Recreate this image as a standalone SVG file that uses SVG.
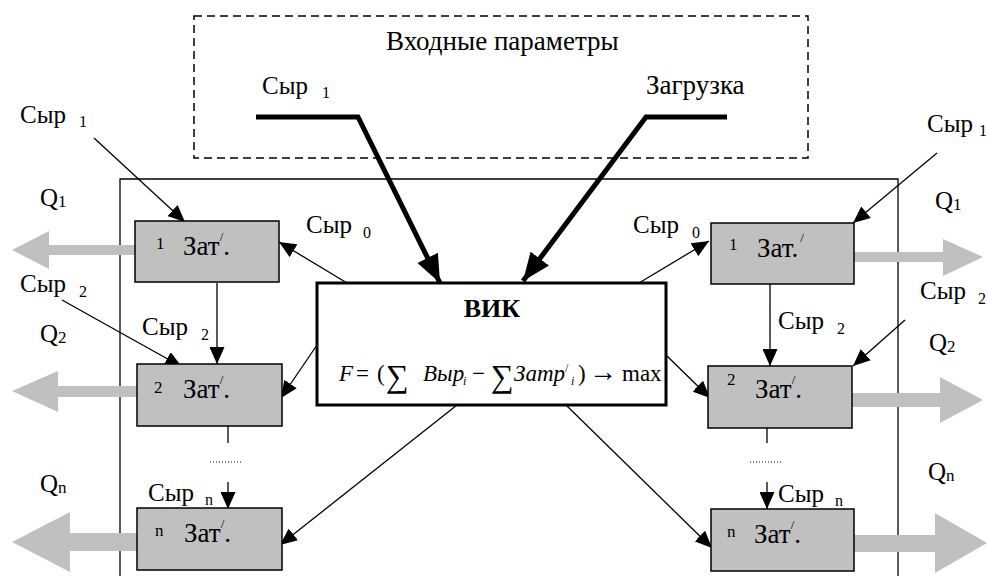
<svg xmlns="http://www.w3.org/2000/svg" width="987" height="576" viewBox="0 0 987 576" font-family="Liberation Serif, serif" font-size="25">
<style>
.sub{font-size:16px}
.sup{font-size:17px}
.pr{font-size:13px}
.box{fill:#c0c0c0;stroke:#000;stroke-width:1.5}
.thin{stroke:#000;stroke-width:1.3;fill:none}
.heavy{stroke:#000;stroke-width:5;fill:none}
.garrow{fill:#c0c0c0;stroke:none}
.it{font-style:italic}
</style>
<defs>
<marker id="ah" markerUnits="userSpaceOnUse" markerWidth="17" markerHeight="15" refX="17" refY="7.5" orient="auto"><path d="M0,0 L17,7.5 L0,15 z" fill="#000"/></marker>
<marker id="ahH" markerUnits="userSpaceOnUse" markerWidth="28" markerHeight="23" refX="28" refY="11.5" orient="auto"><path d="M0,0 L28,11.5 L0,23 z" fill="#000"/></marker>
</defs>
<rect width="987" height="576" fill="#fff"/>
<g id="input-params">
<rect x="194" y="16" width="614" height="142" fill="none" stroke="#000" stroke-width="1.5" stroke-dasharray="8,5"/>
<text x="386" y="50" font-size="27">Входные параметры</text>
<text x="262" y="94">Сыр</text><text class="sub" x="322" y="98">1</text>
<text x="646" y="94" font-size="27">Загрузка</text>
</g>
<g id="outer">
<path d="M120,580 V179 H898 V580" fill="none" stroke="#000" stroke-width="1.3"/>
</g>
<g id="gray-arrows">
<polygon class="garrow" points="135,245 49,245 49,231 12,250 49,269 49,255 135,255"/>
<polygon class="garrow" points="137,386 58,386 58,371 12,391 58,412 58,397 137,397"/>
<polygon class="garrow" points="137,533 70,533 70,512 12,542 70,572 70,551 137,551"/>
<polygon class="garrow" points="854,252 943,252 943,239 983,257 943,276 943,262 854,262"/>
<polygon class="garrow" points="852,393 940,393 940,377 983,400 940,423 940,407 852,407"/>
<polygon class="garrow" points="854,535 935,535 935,513 987,543 935,573 935,552 854,552"/>
</g>
<g id="connectors">
<path class="heavy" d="M256,117 H358 L440,283" marker-end="url(#ahH)"/>
<path class="heavy" d="M727,117 H646 L523,281" marker-end="url(#ahH)"/>
<line class="thin" x1="94" y1="138" x2="185" y2="222" marker-end="url(#ah)"/>
<line class="thin" x1="62" y1="300" x2="182" y2="367" marker-end="url(#ah)"/>
<line class="thin" x1="347" y1="283" x2="279" y2="242" marker-end="url(#ah)"/>
<line class="thin" x1="317" y1="345" x2="281" y2="398" marker-end="url(#ah)"/>
<line class="thin" x1="457" y1="405" x2="280" y2="545" marker-end="url(#ah)"/>
<line class="thin" x1="217" y1="283" x2="217" y2="364" marker-end="url(#ah)"/>
<line class="thin" x1="228" y1="426" x2="228" y2="443"/>
<line x1="210" y1="462" x2="242" y2="462" stroke="#000" stroke-width="1" stroke-dasharray="1,2"/>
<line class="thin" x1="228" y1="482" x2="228" y2="509" marker-end="url(#ah)"/>
<line class="thin" x1="937" y1="153" x2="853" y2="223" marker-end="url(#ah)"/>
<line class="thin" x1="905" y1="320" x2="853" y2="366" marker-end="url(#ah)"/>
<line class="thin" x1="639" y1="283" x2="709" y2="241" marker-end="url(#ah)"/>
<line class="thin" x1="666" y1="355" x2="710" y2="398" marker-end="url(#ah)"/>
<line class="thin" x1="566" y1="405" x2="712" y2="548" marker-end="url(#ah)"/>
<line class="thin" x1="770" y1="284" x2="770" y2="366" marker-end="url(#ah)"/>
<line class="thin" x1="767" y1="428" x2="767" y2="443"/>
<line x1="750" y1="462" x2="782" y2="462" stroke="#000" stroke-width="1" stroke-dasharray="1,2"/>
<line class="thin" x1="767" y1="482" x2="767" y2="509" marker-end="url(#ah)"/>
</g>
<g id="labels">
<text x="20" y="123">Сыр</text><text class="sub" x="79" y="127">1</text>
<text x="40" y="206">Q</text><text class="sup" x="58" y="207">1</text>
<text x="306" y="233">Сыр</text><text class="sub" x="363" y="238">0</text>
<text x="20" y="292">Сыр</text><text class="sub" x="79" y="297">2</text>
<text x="40" y="342">Q</text><text class="sup" x="58" y="343">2</text>
<text x="142" y="335">Сыр</text><text class="sub" x="201" y="340">2</text>
<text x="40" y="492">Q</text><text class="sup" x="58" y="493">n</text>
<text x="148" y="501">Сыр</text><text class="sub" x="205" y="505">n</text>
<text x="633" y="233">Сыр</text><text class="sub" x="692" y="238">0</text>
<text x="927" y="132">Сыр</text><text class="sub" x="979" y="136">1</text>
<text x="935" y="209">Q</text><text class="sup" x="953" y="210">1</text>
<text x="920" y="299">Сыр</text><text class="sub" x="978" y="304">2</text>
<text x="778" y="329">Сыр</text><text class="sub" x="837" y="334">2</text>
<text x="929" y="351">Q</text><text class="sup" x="947" y="352">2</text>
<text x="928" y="480">Q</text><text class="sup" x="946" y="481">n</text>
<text x="778" y="502">Сыр</text><text class="sub" x="835" y="506">n</text>
</g>
<g id="node-L1">
<rect class="box" x="135" y="221" width="144" height="61"/>
<text class="sup" x="156" y="249">1</text>
<text x="183" y="255" font-size="27">Зат<tspan class="pr" dy="-14">/</tspan><tspan dy="14">.</tspan></text>
</g>
<g id="node-L2">
<rect class="box" x="137" y="364" width="145" height="62"/>
<text class="sup" x="154" y="393">2</text>
<text x="183" y="398" font-size="27">Зат<tspan class="pr" dy="-14">/</tspan><tspan dy="14">.</tspan></text>
</g>
<g id="node-Ln">
<rect class="box" x="137" y="508" width="145" height="62"/>
<text class="sup" x="155" y="536">n</text>
<text x="184" y="542" font-size="27">Зат<tspan class="pr" dy="-14">/</tspan><tspan dy="14">.</tspan></text>
</g>
<g id="node-R1">
<rect class="box" x="711" y="223" width="143" height="61"/>
<text class="sup" x="729" y="250">1</text>
<text x="757" y="257" font-size="27">Зат.<tspan class="pr" dx="2" dy="-15">/</tspan></text>
</g>
<g id="node-R2">
<rect class="box" x="708" y="366" width="144" height="62"/>
<text class="sup" x="727" y="385">2</text>
<text x="755" y="398" font-size="27">Зат<tspan class="pr" dy="-14">/</tspan><tspan dy="14">.</tspan></text>
</g>
<g id="node-Rn">
<rect class="box" x="711" y="509" width="143" height="62"/>
<text class="sup" x="727" y="537">n</text>
<text x="754" y="543" font-size="27">Зат<tspan class="pr" dy="-14">/</tspan><tspan dy="14">.</tspan></text>
</g>
<g id="node-VIK">
<rect x="317" y="283" width="349" height="122" fill="#fff" stroke="#000" stroke-width="3"/>
<text x="492" y="317" text-anchor="middle" font-weight="bold" font-size="26">ВИК</text>
<text y="381" font-size="23">
<tspan class="it" x="339">F</tspan>
<tspan x="356">=</tspan>
<tspan x="377">(</tspan>
<tspan x="386" y="387" font-size="32">∑</tspan>
<tspan class="it" x="423" y="381">Выр</tspan>
<tspan class="it" x="463" y="385" font-size="12">i</tspan>
<tspan x="472" y="381">−</tspan>
<tspan x="491" y="387" font-size="32">∑</tspan>
<tspan class="it" x="514" y="381">Затр</tspan>
<tspan x="565" y="372" font-size="12">/</tspan>
<tspan class="it" x="571" y="385" font-size="12">i</tspan>
<tspan x="578" y="381">)</tspan>
<tspan x="589" font-size="28">→</tspan>
<tspan x="622">max</tspan>
</text>
</g>
</svg>
